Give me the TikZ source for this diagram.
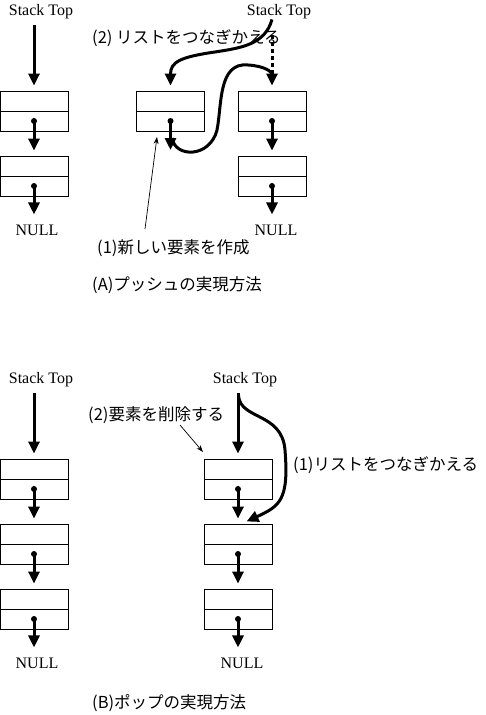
\documentclass[tikz,border=0pt]{standalone}
\usepackage{fontspec}
\setmainfont{Liberation Serif}
\newfontfamily\jp{Noto Sans CJK JP}
\usetikzlibrary{arrows.meta,calc}

\begin{document}
\begin{tikzpicture}[x=1pt,y=-1pt]
\tikzstyle{cell}=[draw,line width=0.9pt,minimum width=68pt,minimum height=40pt,inner sep=0pt,path picture={\draw[line width=0.9pt] (path picture bounding box.west) -- (path picture bounding box.east);}]
\tikzstyle{lbl}=[font=\fontsize{16}{16}\selectfont,inner sep=0pt]
\tikzstyle{jlbl}=[font=\jp\fontsize{16.5}{16.5}\selectfont,inner sep=0pt,anchor=west]
\tikzstyle{dot}=[circle,fill=black,inner sep=0pt,minimum size=6pt]
\tikzstyle{ptr}=[line width=3pt,-{Triangle[length=12pt,width=11pt]},shorten >=5pt]
\tikzstyle{thinptr}=[line width=0.7pt,-{Stealth[length=7pt,width=5pt]}]

\useasboundingbox (0,0) rectangle (485,715);

%%%%%%%%%%%%%%%%%%%%%%%%%%%%%%%%%%%%%%%%%%%%%%%%%%%%%%%%%%%%%%%%%%%%%%%%
%(A) push
\node[lbl] (stackA1) at (41,12) {Stack Top};
\node[lbl] (stackA2) at (279,12) {Stack Top};
%1
\node[cell] (a1) at (34,111) {};
\node[cell] (a2) at (34,176) {};
\node[lbl] (nullA1) at (37,230) {NULL};
%new
\node[cell] (n0) at (170.5,111) {};
%2
\node[cell] (b1) at (272,111) {};
\node[cell] (b2) at (272,176) {};
\node[lbl] (nullA2) at (276,230) {NULL};
%dots
\node[dot] (a1p) at ($(a1)+(0,10)$) {};
\node[dot] (a2p) at ($(a2)+(0,10)$) {};
\node[dot] (n0p) at ($(n0)+(0,10)$) {};
\node[dot] (b1p) at ($(b1)+(0,10)$) {};
\node[dot] (b2p) at ($(b2)+(0,10)$) {};
\coordinate (n0free) at (170.5,155);
%labels
\node[jlbl] (relinkA) at (92,38) {(2) リストをつなぎかえる};
\node[jlbl] (createA) at (97,248) {(1)新しい要素を作成};
\node[jlbl] (titleA) at (92,285) {(A)プッシュの実現方法};
\coordinate (createfrom) at (145,229);
\coordinate (createto) at (157,137);

%ARROWS
\draw[ptr,shorten <=6pt] (a1.north |- stackA1.south) -- (a1.north);
\draw[ptr] (a1p.center) -- (a2.north);
\draw[ptr,shorten >=10pt] (a2p.center) -- (a2p |- nullA1.north);
\draw[ptr] (b1p.center) -- (b2.north);
\draw[ptr,shorten >=10pt] (b2p.center) -- (b2p |- nullA2.north);
\draw[ptr] (n0p.center) -- (n0free);
% top -> new
\draw[ptr] (b1.north |- stackA2.south) .. controls (265,45) and (240,48) .. (215,52)
  .. controls (180,57) and (170.5,62) .. (n0.north);
% old top (dotted)
\draw[line width=3pt,dash pattern=on 4pt off 3pt] ($(b1.north |- stackA2.south)+(0,16)$) -- ($(b1.north)+(0,-12)$);
% new -> old top
\draw[ptr] (172,138) .. controls (175,158) and (210,158) .. (217,130)
  .. controls (222,105) and (218,62) .. (248,65) .. controls (265,66) and (272,72) .. (b1.north);
\draw[thinptr] (createfrom) -- (createto);

%%%%%%%%%%%%%%%%%%%%%%%%%%%%%%%%%%%%%%%%%%%%%%%%%%%%%%%%%%%%%%%%%%%%%%%%
%(B) pop
\node[lbl] (stackB1) at (41,380) {Stack Top};
\node[lbl] (stackB2) at (245,380) {Stack Top};
%1
\node[cell] (c1) at (34,479) {};
\node[cell] (c2) at (34,544) {};
\node[cell] (c3) at (34,609) {};
\node[lbl] (nullB1) at (37,663) {NULL};
%2
\node[cell] (d1) at (238,479) {};
\node[cell] (d2) at (238,544) {};
\node[cell] (d3) at (238,609) {};
\node[lbl] (nullB2) at (242,663) {NULL};
%dots
\node[dot] (c1p) at ($(c1)+(0,10)$) {};
\node[dot] (c2p) at ($(c2)+(0,10)$) {};
\node[dot] (c3p) at ($(c3)+(0,10)$) {};
\node[dot] (d1p) at ($(d1)+(0,10)$) {};
\node[dot] (d2p) at ($(d2)+(0,10)$) {};
\node[dot] (d3p) at ($(d3)+(0,10)$) {};
%labels
\node[jlbl] (deleteB) at (88,415) {(2)要素を削除する};
\node[jlbl] (relinkB) at (293,465) {(1)リストをつなぎかえる};
\node[jlbl] (titleB) at (92,703) {(B)ポップの実現方法};
\coordinate (deletefrom) at (180,425);
\coordinate (deleteto) at (203,452);

%ARROWS
\draw[ptr,shorten <=6pt] (c1.north |- stackB1.south) -- (c1.north);
\draw[ptr] (c1p.center) -- (c2.north);
\draw[ptr] (c2p.center) -- (c3.north);
\draw[ptr,shorten >=10pt] (c3p.center) -- (c3p |- nullB1.north);
\draw[ptr,shorten <=6pt] (d1.north |- stackB2.south) -- (d1.north);
\draw[ptr] (d1p.center) -- (d2.north);
\draw[ptr] (d2p.center) -- (d3.north);
\draw[ptr,shorten >=10pt] (d3p.center) -- (d3p |- nullB2.north);
% top -> second
\draw[ptr,shorten <=8pt] (d1.north |- stackB2.south) .. controls (240,420) and (282,412) .. (285,450)
  .. controls (289,500) and (280,506) .. ($(d2.north)+(4,0)$);
\draw[thinptr] (deletefrom) -- (deleteto);

\end{tikzpicture}
\end{document}
